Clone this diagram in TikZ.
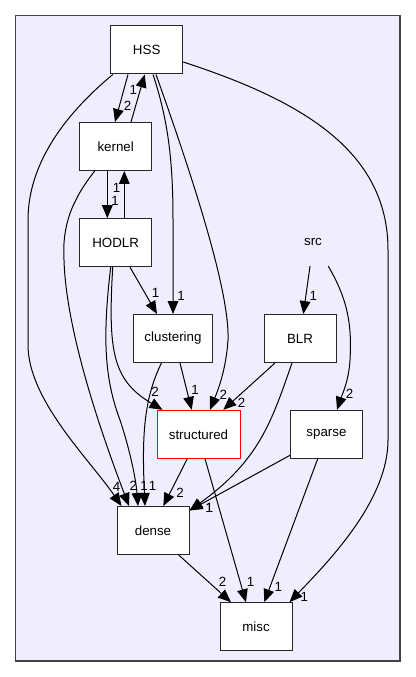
\documentclass[tikz,border=0pt]{standalone}
\usepackage{fontspec}
\setmainfont{Liberation Sans}
\usetikzlibrary{arrows.meta,calc}

\definecolor{clusterfill}{HTML}{EEEEFF}
\definecolor{clusterline}{HTML}{444444}

\tikzset{
    dirbox/.style={draw=black!85, fill=white, line width=0.75pt, minimum width=54pt, minimum height=36pt, inner sep=0pt, font=\fontsize{10}{12}\selectfont},
    elabel/.style={inner sep=0pt, font=\fontsize{10}{12}\selectfont},
    dep/.style={-{Triangle[length=9.75pt,width=8pt]}, line width=0.75pt},
}

\begin{document}
\begin{tikzpicture}[x=0.75pt, y=-0.75pt]

        \useasboundingbox (0,0) rectangle (416,677);
        \draw [clusterline, fill=clusterfill, line width=0.9pt] (15.7,15.7) rectangle (400,661);

        \node [dirbox] (HSS) at (146.7,50) {HSS};
        \node [dirbox] (kernel) at (115.7,146.5) {kernel};
        \node [dirbox] (HODLR) at (115.7,242.7) {HODLR};
        \node [dirbox, draw=none, fill=none] (src) at (313,241.7) {src};
        \node [dirbox, minimum width=59pt] (clustering) at (173,338.5) {clustering};
        \node [dirbox] (BLR) at (300,338.5) {BLR};
        \node [dirbox, draw=red, minimum width=62.25pt] (structured) at (198.5,434.3) {structured};
        \node [dirbox] (sparse) at (326.5,434.3) {sparse};
        \node [dirbox] (dense) at (153,530.5) {dense};
        \node [dirbox] (misc) at (256,626.7) {misc};

        \draw[dep] ($(HSS.south)+(-18.7,0)$) -- ($(kernel.north)+(-0.7,0)$);
        \draw[dep] ($(kernel.north)+(15.3,0)$) -- ($(HSS.south)+(-2,0)$);
        \draw[dep] ($(kernel.south)+(-8.4,0)$) -- ($(HODLR.north)+(-8.4,0)$);
        \draw[dep] ($(HODLR.north)+(8.6,0)$) -- ($(kernel.south)+(8.6,0)$);

        \draw[dep] ($(HSS.south west)+(2.6,0)$) .. controls (70,110) and (28,160) .. (28,220)
            -- (28,345) .. controls (28,400) and (90,460) .. ($(dense.north west)+(5,0)$);
        \draw[dep] ($(kernel.south)+(-21,0)$) .. controls (72,200) and (62,225) .. (64,260)
            .. controls (66,330) and (100,430) .. ($(dense.north)+(-24,0)$);
        \draw[dep] ($(HODLR.south)+(-5,0)$) .. controls (102,340) and (105,380) .. (120,420)
            .. controls (130,450) and (136,480) .. ($(dense.north)+(-15,0)$);
        \draw[dep] ($(HODLR.south)+(-3,0)$) .. controls (108,350) and (112,380) .. ($(structured.north west)+(6,0)$);
        \draw[dep] ($(clustering.south)+(-11.5,0)$) .. controls (143,400) and (142,440) .. ($(dense.north)+(-8,0)$);

        \draw[dep] ($(HSS.south)+(6.3,0)$) .. controls (168,120) and (173,160) .. (173,220) -- (clustering.north);
        \draw[dep] ($(HSS.south)+(9.3,0)$) .. controls (190,170) and (230,290) .. (228,340)
            .. controls (226,370) and (218,390) .. ($(structured.north)+(11.5,0)$);
        \draw[dep] ($(HSS.east)+(0,12)$) .. controls (300,100) and (388,150) .. (388,250)
            -- (388,440) .. controls (388,500) and (330,560) .. ($(misc.north east)+(-3,0)$);

        \draw[dep] ($(HODLR.south)+(14.3,0)$) -- ($(clustering.north)+(-16,0)$);
        \draw[dep] ($(clustering.south)+(7,0)$) -- ($(structured.north)+(-6.8,0)$);
        \draw[dep] ($(BLR.south)+(-25,0)$) -- ($(structured.north)+(24.8,0)$);
        \draw[dep] ($(BLR.south)+(-8,0)$) .. controls (272,420) and (260,460) .. ($(dense.north east)+(0,4.5)$);
        \draw[dep] ($(sparse.west)+(0,21)$) -- ($(dense.north east)+(0,4.5)$);

        \draw[dep] ($(src.south)+(-3,0)$) -- ($(BLR.north)+(3.3,0)$);
        \draw[dep] ($(src.south)+(15.3,0)$) .. controls (348,300) and (352,325) .. (350,360)
            .. controls (349,380) and (342,395) .. ($(sparse.north)+(10.5,0)$);

        \draw[dep] ($(structured.south)+(-11.2,0)$) -- ($(dense.north)+(10.3,0)$);
        \draw[dep] ($(structured.south)+(6.5,0)$) -- ($(misc.north)+(-10,0)$);
        \draw[dep] ($(sparse.south)+(-8.8,0)$) -- ($(misc.north)+(8.3,0)$);
        \draw[dep] ($(dense.south)+(25.7,0)$) -- ($(misc.north)+(-25,0)$);

        \node [elabel] (nHSSkernel) at (127.7,106) {2};
        \node [elabel] (nkernelHSS) at (133.3,90) {1};
        \node [elabel] (nkernelHODLR) at (115,200.5) {1};
        \node [elabel] (nHODLRkernel) at (116.7,187.5) {1};
        \node [elabel] (nHSSdense) at (116.7,486.7) {4};
        \node [elabel] (nkerneldense) at (133.3,486) {2};
        \node [elabel] (nHODLRdense) at (144,486) {1};
        \node [elabel] (nclusteringdense) at (152.7,486) {1};
        \node [elabel] (nHODLRstructured) at (155,391.7) {2};
        \node [elabel] (nHSSclustering) at (181,295.7) {1};
        \node [elabel] (nHSSstructured) at (223.3,395) {2};
        \node [elabel] (nHSSmisc) at (304.3,596.7) {1};
        \node [elabel] (nHODLRclustering) at (155.7,293.3) {1};
        \node [elabel] (nclusteringstructured) at (195,390) {1};
        \node [elabel] (nBLRstructured) at (241.7,402.7) {2};
        \node [elabel] (nBLRdense) at (209.3,507.7) {1};
        \node [elabel] (nsparsedense) at (209.3,507.7) {1};
        \node [elabel] (nsrcBLR) at (313.3,296) {1};
        \node [elabel] (nsrcsparse) at (349.7,394) {2};
        \node [elabel] (nstructureddense) at (180,492.7) {2};
        \node [elabel] (nstructuredmisc) at (250.7,581.7) {1};
        \node [elabel] (nsparsemisc) at (278.3,587.3) {1};
        \node [elabel] (ndensemisc) at (222.7,582.3) {2};

\end{tikzpicture}
\end{document}
